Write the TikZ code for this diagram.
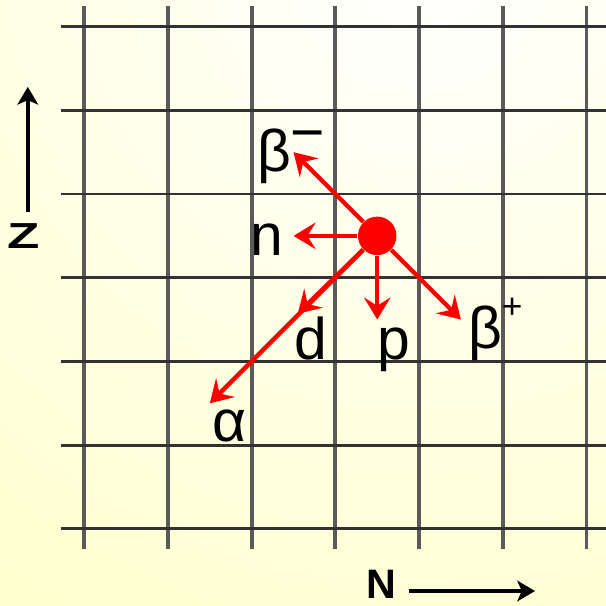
\documentclass[tikz,border=0pt]{standalone}
\usepackage{fontspec}
\setmainfont{Liberation Sans}
\usepackage{graphicx}
\usetikzlibrary{arrows.meta}
\definecolor{bgyellow}{RGB}{255,255,170}
\definecolor{hline}{RGB}{50,50,50}
\definecolor{vline}{RGB}{90,90,90}

\begin{document}
\begin{tikzpicture}[>={Stealth[length=6pt,width=7pt,inset=1.5pt]},
    decay/.style={red,line width=1.5pt,-{Stealth[length=7.5pt,width=9pt,inset=2.8pt]}},
    lab/.style={anchor=base,inner sep=0pt,font=\fontsize{20}{20}\selectfont},
    axislab/.style={anchor=base,inner sep=0pt,font=\fontsize{15}{15}\selectfont\bfseries}]
    \useasboundingbox (-1.007,-0.922) rectangle (6.233,6.318);
    \fill[bgyellow] (-1.007,-0.922) rectangle (6.233,6.318);
    \begin{scope}
        \clip (-1.007,-0.922) rectangle (6.233,6.318);
        \shade[inner color=white,outer color=bgyellow] (4,6.8) circle (16);
    \end{scope}

    % chart of nuclides
    \foreach \i in {0,...,6}
        \draw[vline,line width=1.3pt] (\i,-0.241)--(\i,6.249);
    \foreach \j in {0,...,6}
        \draw[hline,line width=1pt] (-0.282,\j)--(6.233,\j);

    \node[circle,fill=red,inner sep=0pt,minimum size=0.46cm] (nuc) at (3.5,3.5) {};

    \coordinate (bmtip) at (2.5,4.5);
    \coordinate (ntip) at (2.5,3.5);
    \coordinate (dtip) at (2.55,2.57);
    \coordinate (atip) at (1.5,1.5);
    \coordinate (ptip) at (3.5,2.5);
    \coordinate (bptip) at (4.5,2.5);

    \draw[decay] (nuc)--(bmtip);
    \draw[decay] (nuc)--(ntip);
    \draw[decay] (nuc)--(dtip);
    \draw[decay] (nuc)--(atip);
    \draw[decay] (nuc)--(ptip);
    \draw[decay] (nuc)--(bptip);

    \node[lab] (bmlab) at (2.266,4.27) {β\rlap{\raisebox{6.6pt}{−}}};
    \node[lab] (nlab) at (2.177,3.268) {n};
    \node[lab] (dlab) at (2.708,2.023) {d};
    \node[lab] (plab) at (3.700,2.02) {p};
    \node[lab] (bplab) at (4.787,2.16) {β\rlap{\raisebox{9.9pt}{\fontsize{12}{12}\selectfont +}}};
    \node[lab] (alab) at (1.736,1.045) {α};

    % axes
    \node[axislab,anchor=center] (zlab) at (-0.72,3.495) {\scalebox{1.2}[0.82]{Z}};
    \coordinate (zfrom) at (-0.675,3.78);
    \coordinate (zto) at (-0.675,5.28);
    \draw[->,line width=1.2pt] (zfrom)--(zto);

    \node[axislab,font=\fontsize{14}{14}\selectfont\bfseries] (nlabel) at (3.551,-0.83) {N};
    \coordinate (nfrom) at (3.88,-0.743);
    \coordinate (nto) at (5.385,-0.743);
    \draw[->,line width=1.2pt] (nfrom)--(nto);
\end{tikzpicture}
\end{document}
